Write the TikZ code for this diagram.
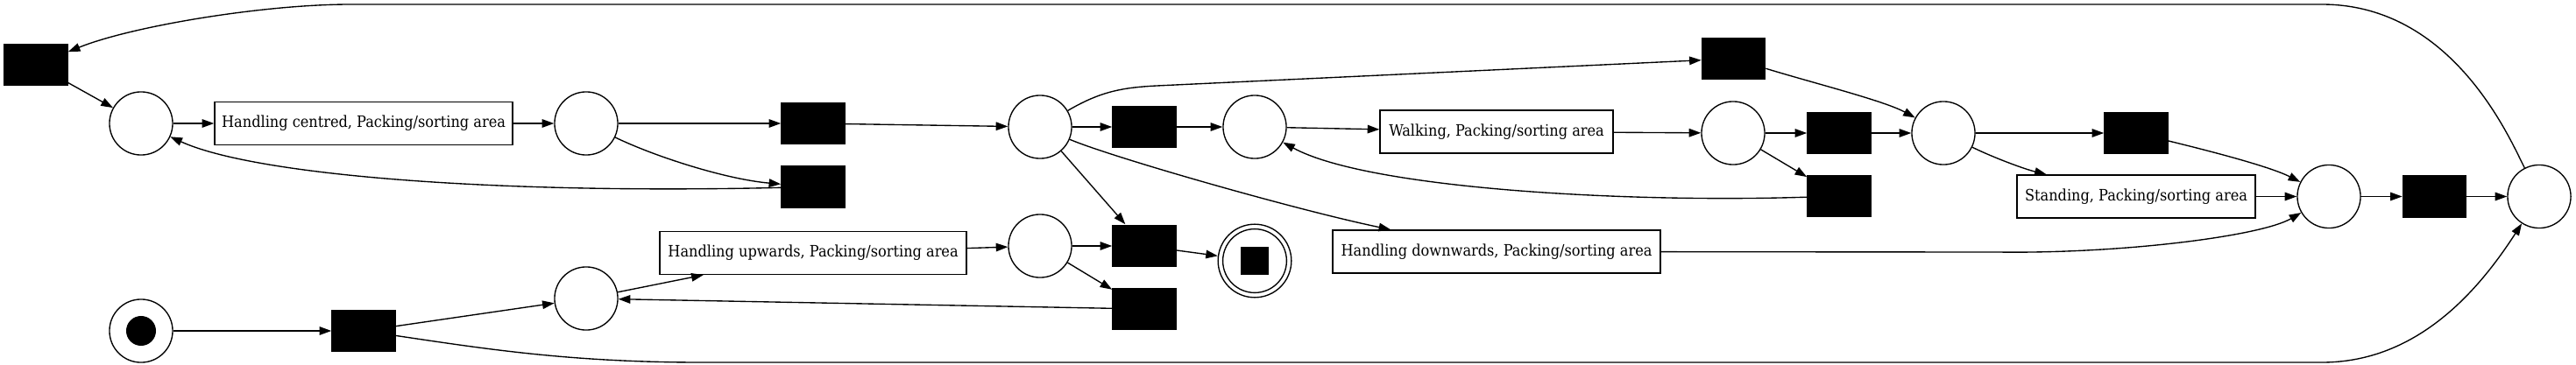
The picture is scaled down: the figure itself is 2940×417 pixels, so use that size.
\documentclass[tikz,border=0pt]{standalone}
\usepackage{fontspec}
\setmainfont{DejaVu Serif Condensed}
\usetikzlibrary{arrows.meta}
\begin{document}
\begin{tikzpicture}[x=0.735pt,y=-0.735pt,
  every node/.style={inner sep=0pt},
  place/.style={circle,draw,line width=1pt,minimum size=53pt},
  trans/.style={rectangle,fill=black,minimum width=53.7pt,minimum height=36pt},
  act/.style={rectangle,draw,fill=white,line width=1pt,minimum height=36pt,font=\fontsize{13.2}{16}\selectfont},
  arr/.style={-{Triangle[length=10pt,width=7pt]},line width=1pt},
]
\useasboundingbox (0,0) rectangle (2940,417);
% places
\node[place] (p1) at (161,141) {};
\node[place] (p2) at (669,141) {};
\node[place] (p3) at (1187,145) {};
\node[place] (p4) at (1432,145) {};
\node[place] (p6) at (1978,152) {};
\node[place] (p7) at (2218,152) {};
\node[place] (p8) at (2658,224.5) {};
\node[place] (p9) at (2898,224.5) {};
\node[place] (ini) at (161,378) {};
\node[circle,fill=black,minimum size=25pt] (tok) at (161,378) {};
\node[place] (pu) at (669,341) {};
\node[place] (p5) at (1187,281) {};
\node[place,minimum size=61.5pt] (fin) at (1432,298) {};
\node[circle,draw,line width=1pt,minimum size=53.5pt] (fini) at (1432,298) {};
\node[rectangle,fill=black,minimum size=24pt] (finsq) at (1432,298) {};
% transitions
\node[trans] (t1) at (41,74) {};
\node[trans] (t2) at (928,141) {};
\node[trans] (t3) at (928,213.5) {};
\node[trans] (t4) at (1306,145) {};
\node[trans] (t5) at (1306,281) {};
\node[trans] (t6) at (1306,353) {};
\node[trans] (t7) at (1978.5,67) {};
\node[trans] (t8) at (2099,152) {};
\node[trans] (t9) at (2099,224) {};
\node[trans] (t10) at (2438,152) {};
\node[trans] (t11) at (2778.5,224.5) {};
\node[trans] (ts) at (415,378) {};
% activities
\node[act,minimum width=250pt] (hc) at (415,141) {Handling centred, Packing/sorting area};
\node[act,minimum width=257pt] (hu) at (928,289) {Handling upwards, Packing/sorting area};
\node[act,minimum width=195.5pt] (walk) at (1708,150.5) {Walking, Packing/sorting area};
\node[act,minimum width=275pt] (hd) at (1708,287.5) {Handling downwards, Packing/sorting area};
\node[act,minimum width=200pt] (stand) at (2438,224.5) {Standing, Packing/sorting area};
% arcs
\draw[arr] (t1) -- (p1);
\draw[arr] (p1) -- (hc);
\draw[arr] (hc) -- (p2);
\draw[arr] (p2) -- (t2);
\draw[arr] (p2) .. controls (750,180) and (830,205) .. (t3);
\draw[arr] (t3) .. controls (560,222) and (290,200) .. (p1);
\draw[arr] (t2) -- (p3);
\draw[arr] (p3) .. controls (1255,105) and (1280,100) .. (1320,98) -- (t7);
\draw[arr] (p3) -- (t4);
\draw[arr] (t4) -- (p4);
\draw[arr] (p3) -- (t5);
\draw[arr] (p3) .. controls (1270,180) and (1480,240) .. (hd);
\draw[arr] (p4) -- (walk);
\draw[arr] (walk) -- (p6);
\draw[arr] (p6) -- (t8);
\draw[arr] (p6) -- (t9);
\draw[arr] (t9) .. controls (1850,232) and (1560,215) .. (p4);
\draw[arr] (t8) -- (p7);
\draw[arr] (t7) .. controls (2070,95) and (2150,115) .. (p7);
\draw[arr] (p7) -- (t10);
\draw[arr] (p7) .. controls (2275,180) and (2310,193) .. (stand);
\draw[arr] (t10) .. controls (2520,172) and (2590,190) .. (p8);
\draw[arr] (stand) -- (p8);
\draw[arr] (hd) -- (2280,288) .. controls (2420,290) and (2580,270) .. (p8);
\draw[arr] (p8) -- (t11);
\draw[arr] (t11) -- (p9);
\draw[arr] (p9) .. controls (2865,160) and (2800,5) .. (2650,5) -- (400,5) .. controls (300,5) and (150,30) .. (t1);
\draw[arr] (ini) -- (ts);
\draw[arr] (ts) -- (pu);
\draw[arr] (ts) .. controls (550,398) and (650,414) .. (800,414) -- (2650,414) .. controls (2760,414) and (2830,330) .. (p9);
\draw[arr] (pu) -- (hu);
\draw[arr] (hu) -- (p5);
\draw[arr] (p5) -- (t5);
\draw[arr] (p5) -- (t6);
\draw[arr] (t6) -- (pu);
\draw[arr] (t5) -- (fin);
\end{tikzpicture}
\end{document}
